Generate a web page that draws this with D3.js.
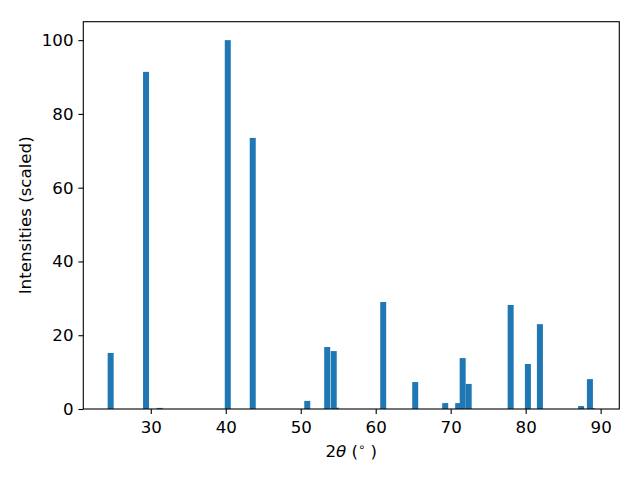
<!DOCTYPE html>
<html><head><meta charset="utf-8">
<script src="https://cdn.jsdelivr.net/npm/d3@7"></script>
<style>body{margin:0;background:#fff}svg{display:block}text{font-family:"DejaVu Sans",sans-serif}</style>
</head><body>
<script>
const twoTheta = [24.65, 29.37, 31.2, 40.27, 43.6, 50.87, 53.53, 54.7, 54.4, 61.0, 65.27, 69.27, 71.0, 71.6, 72.4, 78.0, 80.3, 81.9, 87.4, 88.57, 88.84];
const intensity = [15.2, 91.4, 0.3, 100, 73.5, 2.2, 16.8, 0.35, 15.7, 29.0, 7.3, 1.6, 1.6, 13.8, 6.8, 28.2, 12.2, 23.0, 0.8, 8.1, 0.2];
const xTicks = [30, 40, 50, 60, 70, 80, 90];
const yTicks = [0, 20, 40, 60, 80, 100];
const xLabel = "2θ (°)";
const yLabel = "Intensities (scaled)";
const barWidth = 0.8;

const W = 640, H = 480;
const m = {left: 83.3, right: 640 - 619.3, top: 21.7, bottom: 480 - 409};
const svg = d3.select("body").append("svg").attr("width", W).attr("height", H);

const lo = d3.min(twoTheta) - barWidth/2, hi = d3.max(twoTheta) + barWidth/2;
const pad = (hi - lo) * 0.05;
const x = d3.scaleLinear().domain([lo - pad, hi + pad]).range([m.left, W - m.right]);
const y = d3.scaleLinear().domain([0, d3.max(intensity) * 1.05]).range([H - m.bottom, m.top]);

const data = twoTheta.map((t, i) => ({t, v: intensity[i]}));
svg.append("g").selectAll("rect").data(data).join("rect")
  .attr("x", d => x(d.t - barWidth/2))
  .attr("width", d => x(d.t + barWidth/2) - x(d.t - barWidth/2))
  .attr("y", d => y(d.v))
  .attr("height", d => y(0) - y(d.v))
  .attr("fill", "#1f77b4");

const fs = "16.67px";
const xa = svg.append("g").attr("transform", `translate(0,${H - m.bottom})`)
  .call(d3.axisBottom(x).tickValues(xTicks).tickSize(4.9).tickPadding(7));
const ya = svg.append("g").attr("transform", `translate(${m.left},0)`)
  .call(d3.axisLeft(y).tickValues(yTicks).tickSize(4.9).tickPadding(4.9));
[xa, ya].forEach(a => {
  a.select(".domain").remove();
  a.selectAll("line").attr("stroke", "#000").attr("stroke-width", 1.1);
  a.selectAll("text").attr("font-size", fs).attr("fill", "#000").attr("font-family", "DejaVu Sans");
});

svg.append("rect").attr("x", m.left).attr("y", m.top)
  .attr("width", W - m.right - m.left).attr("height", H - m.bottom - m.top)
  .attr("fill", "none").attr("stroke", "#000").attr("stroke-width", 1.1);

const xl = svg.append("text").attr("x", (m.left + W - m.right)/2).attr("y", 457)
  .attr("text-anchor", "middle").attr("font-size", fs);
xl.append("tspan").text("2");
xl.append("tspan").attr("font-style", "italic").text("θ");
xl.append("tspan").text(" (");
xl.append("tspan").attr("font-size", "11.5px").attr("dy", -6).text("∘");
xl.append("tspan").attr("dy", 6).text(" )");

svg.append("text").attr("transform", `translate(31,${(m.top + H - m.bottom)/2}) rotate(-90)`)
  .attr("text-anchor", "middle").attr("font-size", fs).text(yLabel);
</script>
</body></html>
